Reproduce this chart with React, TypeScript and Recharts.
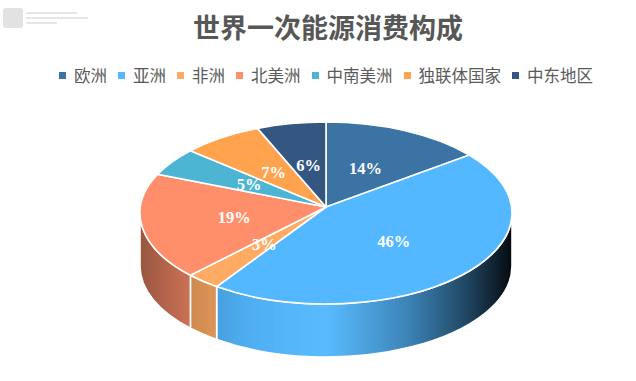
import React from 'react';
import { PieChart, Pie, Cell } from 'recharts';

const title = '世界一次能源消费构成';
const categories = ['欧洲', '亚洲', '非洲', '北美洲', '中南美洲', '独联体国家', '中东地区'];
const shares = [14, 46, 3, 19, 5, 7, 6];
const colors = ['#3B73A5', '#53B8FF', '#FFAB63', '#FF8F6B', '#4DB5D4', '#FFA34F', '#345782'];

const data = categories.map((name, i) => ({ name, value: shares[i] }));

const W = 636;
const H = 381;
const CX = 326;
const CY = 213;
const RX = 186;
const K = 91 / 186;
const APEX_DY = -6;
const DEPTH = 53;
const RAD = Math.PI / 180;

const rim = (cx: number, cy: number, r: number, a: number): [number, number] => [
  cx + r * Math.cos(a * RAD),
  cy - r * K * Math.sin(a * RAD),
];

const shade = (hex: string, f: number) => {
  const n = parseInt(hex.slice(1), 16);
  const ch = [(n >> 16) & 255, (n >> 8) & 255, n & 255].map((c) => {
    const v = f <= 1 ? c * f : c + (255 - c) * (f - 1);
    return Math.max(0, Math.min(255, Math.round(v)));
  });
  return `rgb(${ch[0]},${ch[1]},${ch[2]})`;
};

const TopShape = (p: any) => {
  const { cx, cy, outerRadius: r, startAngle: s, endAngle: e, fill } = p;
  const ry = r * K;
  const [x1, y1] = rim(cx, cy, r, s);
  const [x2, y2] = rim(cx, cy, r, e);
  const large = Math.abs(s - e) > 180 ? 1 : 0;
  const sweep = s > e ? 1 : 0;
  const d = `M${cx},${cy + APEX_DY} L${x1},${y1} A${r},${ry} 0 ${large} ${sweep} ${x2},${y2} Z`;
  return <path d={d} fill={fill} stroke="#ffffff" strokeWidth={1.6} strokeLinejoin="round" />;
};

const SideShape = (p: any) => {
  const { cx, cy, outerRadius: r, startAngle: s, endAngle: e, fill, index } = p;
  const hi = Math.min(Math.max(s, e), 0);
  const lo = Math.max(Math.min(s, e), -180);
  if (hi <= lo) return <g />;
  const ry = r * K;
  const [x1, y1] = rim(cx, cy, r, hi);
  const [x2, y2] = rim(cx, cy, r, lo);
  const d = `M${x1},${y1} A${r},${ry} 0 0 1 ${x2},${y2} L${x2},${y2 + DEPTH} A${r},${ry} 0 0 0 ${x1},${y1 + DEPTH} Z`;
  const id = `side-grad-${index}`;
  const stops: [number, number][] = [
    [0, 0.6],
    [0.15, 0.82],
    [0.3, 0.95],
    [0.5, 1.04],
    [0.72, 0.72],
    [0.88, 0.38],
    [1, 0.06],
  ];
  return (
    <g>
      <defs>
        <linearGradient id={id} gradientUnits="userSpaceOnUse" x1={cx - r} y1={0} x2={cx + r} y2={0}>
          {stops.map(([o, f]) => (
            <stop key={o} offset={o} stopColor={shade(fill, f)} />
          ))}
        </linearGradient>
      </defs>
      <path d={d} fill={`url(#${id})`} stroke="#ffffff" strokeWidth={1.6} strokeLinejoin="round" />
    </g>
  );
};

const renderLabel = (p: any) => {
  const { cx, cy, midAngle, outerRadius: r, value } = p;
  const [px, py] = rim(cx, cy, r, midAngle);
  const ax = cx;
  const ay = cy + APEX_DY;
  const x = ax + 0.5 * (px - ax);
  const y = ay + 0.5 * (py - ay);
  return (
    <text
      x={x}
      y={y}
      fill="#ffffff"
      textAnchor="middle"
      dominantBaseline="central"
      style={{ fontFamily: '"Liberation Serif", serif', fontWeight: 700, fontSize: 16.5 }}
    >
      {`${value}%`}
    </text>
  );
};

export default function App() {
  return (
    <div style={{ position: 'absolute', left: 0, top: 0, width: W, height: H, background: '#fff', overflow: 'hidden' }}>
      {/* decorative mark top-left */}
      <div style={{ position: 'absolute', left: 3, top: 8, width: 20, height: 20, background: '#e2e2e2', borderRadius: 3 }} />
      <div style={{ position: 'absolute', left: 26, top: 12, width: 51, height: 2, background: '#e6e6e6' }} />
      <div style={{ position: 'absolute', left: 26, top: 17, width: 62, height: 2, background: '#e6e6e6' }} />
      <div style={{ position: 'absolute', left: 26, top: 22, width: 31, height: 2, background: '#e6e6e6' }} />

      <div
        style={{
          position: 'absolute',
          left: 10,
          top: 13,
          width: W,
          textAlign: 'center',
          fontFamily: '"Noto Sans CJK SC", sans-serif',
          fontWeight: 700,
          fontSize: 27,
          lineHeight: '27px',
          color: '#575757',
        }}
      >
        {title}
      </div>

      <div
        style={{
          position: 'absolute',
          left: 8,
          top: 65,
          width: W,
          height: 20,
          display: 'flex',
          justifyContent: 'center',
          alignItems: 'center',
          fontFamily: '"Noto Sans CJK SC", sans-serif',
          fontSize: 16.5,
          color: '#5a5a5a',
        }}
      >
        {categories.map((c, i) => (
          <div key={c} style={{ display: 'flex', alignItems: 'center', marginRight: i < categories.length - 1 ? 11 : 0 }}>
            <span style={{ display: 'inline-block', width: 7, height: 7, background: colors[i], marginRight: 8 }} />
            <span style={{ lineHeight: '20px' }}>{c}</span>
          </div>
        ))}
      </div>

      <div style={{ position: 'absolute', left: 0, top: 0 }}>
        <PieChart width={W} height={H} margin={{ top: 0, right: 0, bottom: 0, left: 0 }}>
          <Pie
            data={data}
            dataKey="value"
            nameKey="name"
            cx={CX}
            cy={CY}
            outerRadius={RX}
            startAngle={90}
            endAngle={-270}
            isAnimationActive={false}
            legendType="none"
            shape={SideShape}
            inactiveShape={SideShape}
            activeShape={SideShape}
            stroke="none"
          >
            {data.map((d, i) => (
              <Cell key={d.name} fill={colors[i]} />
            ))}
          </Pie>
          <Pie
            data={data}
            dataKey="value"
            nameKey="name"
            cx={CX}
            cy={CY}
            outerRadius={RX}
            startAngle={90}
            endAngle={-270}
            isAnimationActive={false}
            shape={TopShape}
            inactiveShape={TopShape}
            activeShape={TopShape}
            label={renderLabel}
            labelLine={false}
            stroke="none"
          >
            {data.map((d, i) => (
              <Cell key={d.name} fill={colors[i]} />
            ))}
          </Pie>
        </PieChart>
      </div>
    </div>
  );
}
